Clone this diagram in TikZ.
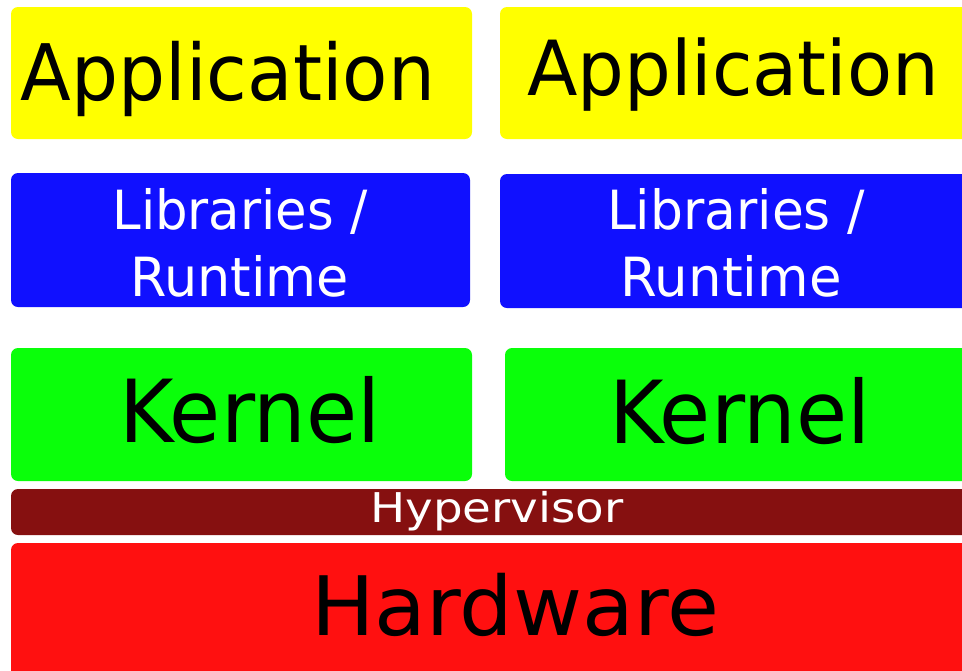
\documentclass[tikz,border=0pt]{standalone}
\usepackage{fontspec}
\setmainfont{DejaVu Sans}
\usepackage{graphicx}
\definecolor{appyellow}{RGB}{255,255,0}
\definecolor{libblue}{RGB}{16,16,255}
\definecolor{kerngreen}{RGB}{10,255,10}
\definecolor{hypred}{RGB}{134,16,16}
\definecolor{hwred}{RGB}{255,16,16}
\tikzstyle{layer}=[rectangle,rounded corners=7pt,inner sep=0pt,draw=none]
\tikzstyle{caption}=[anchor=base,inner sep=0pt]

\begin{document}
\begin{tikzpicture}[x=1pt,y=-1pt]
				\useasboundingbox (0,0) rectangle (962,670);
				\clip (0,0) rectangle (962,670);

				% First we draw the layers
				\foreach \x/\y/\w/\h/\col/\name in {241.5/73/461/132/appyellow/appL, 740/73/480/132/appyellow/appR,
										240.5/240/459/134/libblue/libL, 740/241/480/134/libblue/libR,
										241.5/414.5/461/133/kerngreen/kerL, 742.5/414.5/475/133/kerngreen/kerR,
										495.5/512/969/46/hypred/hyp, 495.5/621.5/969/157/hwred/hw}
				\node[layer,fill=\col,minimum width=\w pt,minimum height=\h pt] (\name) at (\x,\y) {};

				% Then the dark captions
				\foreach \x/\y/\fs/\xs/\txt/\name in {228/100/78/0.95/Application/appLtxt, 733/95/76/0.97/Application/appRtxt,
										250/442/87/0.955/Kernel/kerLtxt, 740/443/87/0.955/Kernel/kerRtxt,
										515/635/82/1.03/Hardware/hwtxt}
				\node[caption] (\name) at (\x,\y) {\fontsize{\fs}{\fs}\selectfont\scalebox{\xs}[1]{\txt}};

				% and the light ones
				\foreach \x/\y/\fs/\xs/\txt/\name in {240/229/54/0.95/{Libraries /}/libLtop, 239.5/296/54/0.97/Runtime/libLbot,
										736/229/54/0.96/{Libraries /}/libRtop, 731/296/54/0.98/Runtime/libRbot,
										497/522/41/1.14/Hypervisor/hyptxt}
				\node[caption,text=white] (\name) at (\x,\y) {\fontsize{\fs}{\fs}\selectfont\scalebox{\xs}[1]{\txt}};

			\end{tikzpicture}
\end{document}
